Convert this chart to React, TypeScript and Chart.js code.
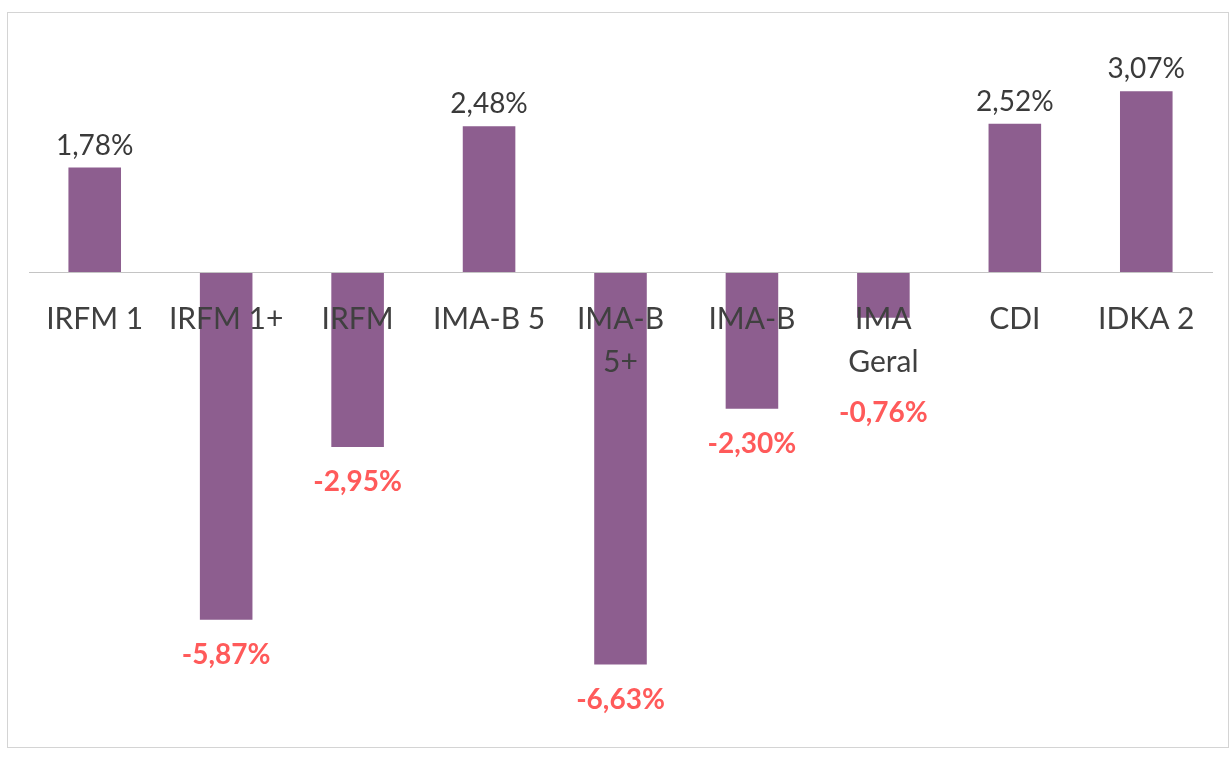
import React, { useEffect, useRef } from 'react';
import { Chart, registerables } from 'chart.js';

Chart.register(...registerables);

const categories: (string | string[])[] = [
  'IRFM 1',
  'IRFM 1+',
  'IRFM',
  'IMA-B 5',
  ['IMA-B', '5+'],
  'IMA-B',
  ['IMA', 'Geral'],
  'CDI',
  'IDKA 2',
];

const values: number[] = [1.78, -5.87, -2.95, 2.48, -6.63, -2.3, -0.76, 2.52, 3.07];

const formatPct = (v: number) => v.toFixed(2).replace('.', ',') + '%';

const BAR_COLOR = '#8D5E8F';
const POS_LABEL_COLOR = '#3a3a3a';
const NEG_LABEL_COLOR = '#FF5A5A';
const AXIS_LABEL_COLOR = '#404040';
const FONT = 'Lato, "Open Sans", sans-serif';

const valueLabelPlugin = {
  id: 'valueLabels',
  afterDraw(chart: any) {
    const ctx = chart.ctx as CanvasRenderingContext2D;
    const meta = chart.getDatasetMeta(0);
    meta.data.forEach((bar: any, i: number) => {
      const v = values[i];
      const text = formatPct(v);
      ctx.save();
      ctx.textAlign = 'center';
      ctx.textBaseline = 'alphabetic';
      if (v >= 0) {
        ctx.font = `28px ${FONT}`;
        ctx.fillStyle = POS_LABEL_COLOR;
        ctx.fillText(text, bar.x, bar.y - 13);
      } else {
        ctx.font = `bold 28px ${FONT}`;
        ctx.fillStyle = NEG_LABEL_COLOR;
        ctx.fillText(text, bar.x, Math.max(bar.y + 44, 422));
      }
      ctx.restore();
    });
  },
};

export default function App() {
  const canvasRef = useRef<HTMLCanvasElement | null>(null);

  useEffect(() => {
    if (!canvasRef.current) return;
    const chart = new Chart(canvasRef.current, {
      type: 'bar',
      data: {
        labels: categories,
        datasets: [
          {
            data: values,
            backgroundColor: BAR_COLOR,
            borderWidth: 0,
            categoryPercentage: 0.4,
            barPercentage: 1,
          },
        ],
      },
      options: {
        responsive: false,
        animation: false,
        layout: { padding: { left: 29, right: 19, top: 60, bottom: 42 } },
        plugins: {
          legend: { display: false },
          tooltip: { enabled: false },
        },
        scales: {
          x: {
            position: { y: 0 } as any,
            offset: true,
            grid: { display: false },
            border: { display: true, color: '#c4c4c4', width: 1, z: 1 } as any,
            ticks: {
              z: 1,
              autoSkip: false,
              maxRotation: 0,
              minRotation: 0,
              padding: 17,
              color: AXIS_LABEL_COLOR,
              font: { family: FONT, size: 30, lineHeight: 1.43 },
            },
          },
          y: {
            display: false,
            min: -7.5,
            max: 3.6,
          },
        },
      },
      plugins: [valueLabelPlugin],
    });
    return () => chart.destroy();
  }, []);

  return (
    <div
      style={{
        position: 'fixed',
        left: 0,
        top: 0,
        width: 1231,
        height: 758,
        background: '#ffffff',
        overflow: 'hidden',
      }}
    >
      <div
        style={{
          position: 'absolute',
          left: 7,
          top: 12,
          width: 1222,
          height: 736,
          border: '1px solid #d4d4d4',
          boxSizing: 'border-box',
        }}
      />
      <canvas
        ref={canvasRef}
        width={1231}
        height={758}
        style={{ position: 'absolute', left: 0, top: 0, width: 1231, height: 758 }}
      />
    </div>
  );
}
